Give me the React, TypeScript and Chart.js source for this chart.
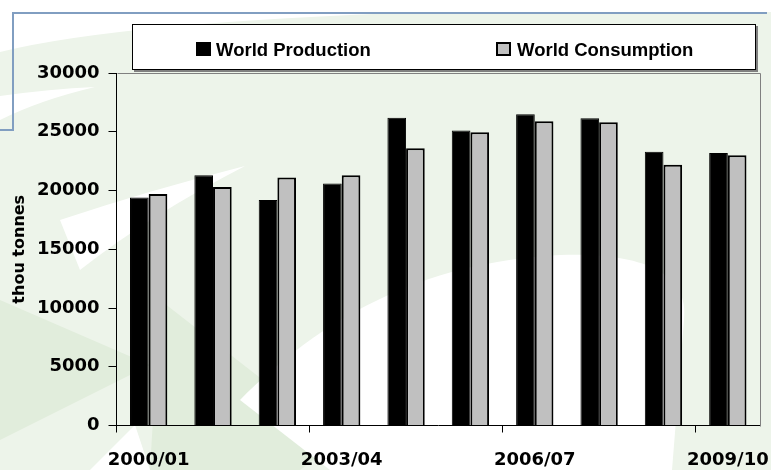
import React, { useEffect, useRef } from 'react';
import { Chart, registerables } from 'chart.js';

Chart.register(...registerables);

const categories = ['2000/01', '2001/02', '2002/03', '2003/04', '2004/05', '2005/06', '2006/07', '2007/08', '2008/09', '2009/10'];
const production = [19400, 21300, 19200, 20600, 26200, 25100, 26500, 26150, 23300, 23200];
const consumption = [19700, 20300, 21100, 21300, 23600, 24950, 25900, 25800, 22200, 23000];
const yTicks = [0, 5000, 10000, 15000, 20000, 25000, 30000];
const seriesNames = ['World Production', 'World Consumption'];
const seriesColors = ['#000000', '#C0C0C0'];
const yTitle = 'thou tonnes';

const W = 771;
const H = 470;

const backgroundPlugin = {
  id: 'slideBackground',
  beforeDraw(chart: any) {
    const ctx = chart.ctx as CanvasRenderingContext2D;
    ctx.save();
    ctx.fillStyle = '#EDF4EA';
    ctx.fillRect(0, 0, W, H);
    // darker green triangles lower left
    ctx.fillStyle = '#E1EDDC';
    ctx.beginPath();
    ctx.moveTo(0, 300);
    ctx.lineTo(150, 365);
    ctx.lineTo(0, 440);
    ctx.closePath();
    ctx.fill();
    ctx.beginPath();
    ctx.moveTo(160, 300);
    ctx.lineTo(340, 440);
    ctx.lineTo(300, 470);
    ctx.lineTo(150, 470);
    ctx.closePath();
    ctx.fill();
    ctx.fillStyle = '#FFFFFF';
    // top strip
    ctx.fillRect(0, 0, W, 12);
    // top-left swoosh
    ctx.beginPath();
    ctx.moveTo(0, 12);
    ctx.lineTo(430, 12);
    ctx.quadraticCurveTo(120, 22, 0, 52);
    ctx.closePath();
    ctx.fill();
    // thin wedge
    ctx.beginPath();
    ctx.moveTo(0, 96);
    ctx.quadraticCurveTo(50, 89, 95, 87);
    ctx.quadraticCurveTo(40, 100, 0, 120);
    ctx.closePath();
    ctx.fill();
    // diagonal wedge in plot left
    ctx.beginPath();
    ctx.moveTo(60, 220);
    ctx.quadraticCurveTo(150, 190, 245, 166);
    ctx.quadraticCurveTo(150, 215, 80, 270);
    ctx.closePath();
    ctx.fill();
    // big white region bottom middle
    ctx.beginPath();
    ctx.moveTo(330, 470);
    ctx.lineTo(240, 400);
    ctx.bezierCurveTo(320, 320, 420, 262, 560, 255);
    ctx.bezierCurveTo(640, 252, 690, 272, 684, 320);
    ctx.lineTo(672, 470);
    ctx.closePath();
    ctx.fill();
    // small white triangle below axis left
    ctx.beginPath();
    ctx.moveTo(90, 470);
    ctx.lineTo(135, 425);
    ctx.lineTo(150, 470);
    ctx.closePath();
    ctx.fill();
    ctx.restore();
  },
};

const decorPlugin = {
  id: 'decor',
  beforeDatasetsDraw(chart: any) {
    const ctx = chart.ctx as CanvasRenderingContext2D;
    const a = chart.chartArea;
    ctx.save();
    ctx.strokeStyle = '#808080';
    ctx.lineWidth = 1;
    ctx.beginPath();
    ctx.moveTo(Math.round(a.left) + 0.5, Math.round(a.top) + 0.5);
    ctx.lineTo(Math.round(a.right) + 0.5, Math.round(a.top) + 0.5);
    ctx.lineTo(Math.round(a.right) + 0.5, Math.round(a.bottom) + 0.5);
    ctx.stroke();
    ctx.restore();
  },
  afterDraw(chart: any) {
    const ctx = chart.ctx as CanvasRenderingContext2D;
    ctx.save();
    // blue slide frame
    ctx.strokeStyle = '#819EC1';
    ctx.lineWidth = 2;
    ctx.beginPath();
    ctx.moveTo(767, 13);
    ctx.lineTo(13, 13);
    ctx.lineTo(13, 130);
    ctx.lineTo(0, 130);
    ctx.stroke();

    // legend box
    ctx.fillStyle = '#808080';
    ctx.fillRect(134, 26, 624, 46);
    ctx.fillStyle = '#FFFFFF';
    ctx.fillRect(132, 24, 624, 46);
    ctx.strokeStyle = '#000000';
    ctx.lineWidth = 1;
    ctx.strokeRect(132.5, 24.5, 623, 45);

    const ds = chart.data.datasets;
    const items = [
      { sx: 196, tx: 216 },
      { sx: 496, tx: 517 },
    ];
    ctx.font = "bold 18.5px 'Liberation Sans'";
    ctx.textBaseline = 'alphabetic';
    ctx.textAlign = 'left';
    items.forEach((it, i) => {
      ctx.fillStyle = ds[i].backgroundColor;
      ctx.fillRect(it.sx, 42, 15, 14);
      if (i === 1) {
        ctx.strokeStyle = '#000';
        ctx.lineWidth = 2;
        ctx.strokeRect(it.sx + 1, 43, 13, 12);
      }
      ctx.fillStyle = '#000';
      ctx.fillText(ds[i].label, it.tx, 55.5);
    });
    ctx.restore();
  },
};

export default function App() {
  const ref = useRef<HTMLCanvasElement | null>(null);

  useEffect(() => {
    if (!ref.current) return;
    const chart = new Chart(ref.current, {
      type: 'bar',
      data: {
        labels: categories,
        datasets: [
          {
            label: seriesNames[0],
            data: production,
            backgroundColor: seriesColors[0],
            borderColor: '#000',
            borderWidth: 1,
            categoryPercentage: 0.58,
            barPercentage: 1,
          },
          {
            label: seriesNames[1],
            data: consumption,
            backgroundColor: seriesColors[1],
            borderColor: '#000',
            borderWidth: 2,
            categoryPercentage: 0.58,
            barPercentage: 1,
          },
        ],
      },
      options: {
        responsive: false,
        animation: false,
        layout: { padding: { top: 73, right: 11, left: 0, bottom: 0 } },
        plugins: {
          legend: { display: false },
          tooltip: { enabled: false },
        },
        scales: {
          x: {
            offset: true,
            grid: {
              offset: true,
              drawOnChartArea: false,
              drawTicks: true,
              tickLength: 7,
              lineWidth: 1,
              color: (c: any) => (typeof c.index === 'number' && c.index % 3 === 0 ? '#000' : 'rgba(0,0,0,0)'),
            },
            border: { display: true, color: '#000', width: 1 },
            ticks: {
              autoSkip: false,
              maxRotation: 0,
              minRotation: 0,
              padding: 17,
              color: '#000',
              font: { family: "'DejaVu Sans'", weight: 'bold', size: 18 },
              callback: (_v: any, i: number) => (i % 3 === 0 ? categories[i] : ''),
            },
            afterFit: (s: any) => {
              s.height = 44.5;
              s.paddingLeft = 0;
              s.paddingRight = 0;
            },
          },
          y: {
            min: 0,
            max: 30000,
            afterBuildTicks: (s: any) => {
              s.ticks = yTicks.map((v) => ({ value: v }));
            },
            grid: { drawOnChartArea: false, drawTicks: true, tickLength: 8, color: '#000' },
            border: { display: true, color: '#000', width: 1 },
            ticks: {
              padding: 9,
              color: '#000',
              font: { family: "'DejaVu Sans'", weight: 'bold', size: 18 },
              callback: (v: any) => String(v),
            },
            title: {
              display: true,
              text: yTitle,
              color: '#000',
              font: { family: "'DejaVu Sans'", weight: 'bold', size: 16 },
              padding: { top: 10, bottom: 0 },
            },
            afterFit: (s: any) => {
              s.width = 116.5;
              s.paddingTop = 0;
              s.paddingBottom = 0;
            },
          },
        },
      },
      plugins: [backgroundPlugin, decorPlugin],
    } as any);
    return () => chart.destroy();
  }, []);

  return (
    <canvas
      ref={ref}
      width={W}
      height={H}
      style={{ position: 'absolute', left: 0, top: 0, display: 'block', width: W, height: H }}
    />
  );
}
